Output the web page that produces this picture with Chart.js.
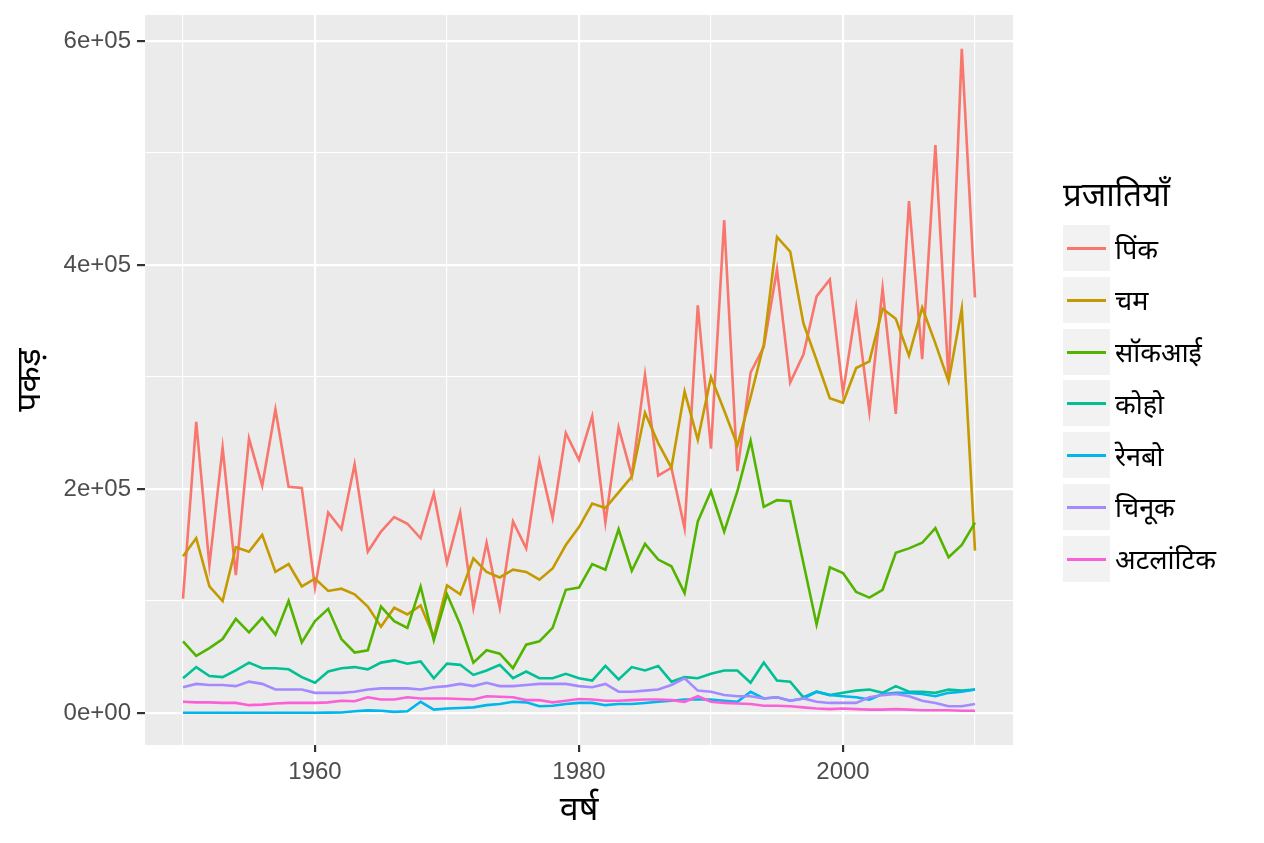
<!DOCTYPE html>
<html lang="hi">
<head>
<meta charset="utf-8">
<title>पकड़ - प्रजातियाँ</title>
<script src="https://cdn.jsdelivr.net/npm/chart.js@4.4.1/dist/chart.umd.min.js"></script>
<style>
  html, body { margin: 0; padding: 0; background: #fff; }
  #wrap { position: relative; width: 1264px; height: 843px; }
  #legend { position: absolute; left: 1063px; top: 172px; font-family: "Noto Sans", "Liberation Sans", sans-serif; color: #000; }
  #legend .title { font-size: 33px; line-height: 44px; height: 44px; margin-bottom: 9px; }
  #legend .row { display: flex; align-items: center; height: 46px; margin-bottom: 5.8px; }
  #legend .key { width: 47px; height: 46px; background: #F2F2F2; position: relative; }
  #legend .key span { position: absolute; left: 4px; right: 4px; top: 22px; height: 3px; }
  #legend .lab { margin-left: 5px; font-size: 27px; }
</style>
</head>
<body>
<div id="wrap">
  <canvas id="chart" width="1264" height="843"></canvas>
  <div id="legend"></div>
</div>
<script>
// 年份 (x 軸類別)
const years = [
  1950, 1951, 1952, 1953, 1954, 1955, 1956, 1957, 1958, 1959,
  1960, 1961, 1962, 1963, 1964, 1965, 1966, 1967, 1968, 1969,
  1970, 1971, 1972, 1973, 1974, 1975, 1976, 1977, 1978, 1979,
  1980, 1981, 1982, 1983, 1984, 1985, 1986, 1987, 1988, 1989,
  1990, 1991, 1992, 1993, 1994, 1995, 1996, 1997, 1998, 1999,
  2000, 2001, 2002, 2003, 2004, 2005, 2006, 2007, 2008, 2009, 2010
];

// 各物種捕獲量
const pink = [
  102000, 260000, 132000, 237000, 123000, 245000, 203000, 271000, 202000, 201000,
  112000, 179000, 164000, 222000, 144000, 162000, 175000, 169000, 156000, 196000,
  134000, 179000, 94000, 152000, 94000, 171000, 147000, 225000, 174000, 250000,
  226000, 265000, 170000, 255000, 212000, 302000, 212000, 219000, 165000, 364000,
  236000, 440000, 216000, 304000, 327000, 396000, 295000, 320000, 372000, 387000,
  286000, 362000, 269000, 379000, 267000, 457000, 316000, 507000, 297000, 593000, 371000
];
const chum = [
  140000, 156000, 113000, 100000, 148000, 144000, 159000, 126000, 133000, 113000,
  120000, 109000, 111000, 106000, 95000, 77000, 94000, 88000, 96000, 68000,
  114000, 106000, 138000, 126000, 121000, 128000, 126000, 119000, 129000, 150000,
  166000, 187000, 183000, 197000, 211000, 268000, 241000, 219000, 287000, 244000,
  300000, 270000, 239000, 282000, 329000, 425000, 412000, 348000, 315000, 281000,
  277000, 308000, 314000, 361000, 352000, 319000, 362000, 330000, 296000, 361000, 145000
];
const sockeye = [
  64000, 51000, 58000, 66000, 84000, 72000, 85000, 70000, 100000, 63000,
  82000, 93000, 66000, 54000, 56000, 95000, 82000, 76000, 113000, 65000,
  106000, 79000, 45000, 56000, 53000, 40000, 61000, 64000, 76000, 110000,
  112000, 133000, 128000, 164000, 127000, 151000, 137000, 131000, 107000, 171000,
  198000, 162000, 198000, 243000, 184000, 190000, 189000, 134000, 79000, 130000,
  125000, 108000, 103000, 110000, 143000, 147000, 152000, 165000, 139000, 150000, 170000
];
const coho = [
  31000, 41000, 33000, 32000, 38000, 45000, 40000, 40000, 39000, 32000,
  27000, 37000, 40000, 41000, 39000, 45000, 47000, 44000, 46000, 31000,
  44000, 43000, 34000, 38000, 43000, 31000, 37000, 31000, 31000, 35000,
  31000, 29000, 42000, 30000, 41000, 38000, 42000, 28000, 32000, 31000,
  35000, 38000, 38000, 27000, 45000, 29000, 28000, 14000, 19000, 16000,
  18000, 20000, 21000, 18000, 24000, 19000, 19000, 18000, 21000, 20000, 21000
];
const rainbow = [
  200, 200, 200, 200, 200, 200, 200, 200, 200, 200,
  200, 300, 500, 1500, 2300, 2000, 1000, 1500, 10000, 3000,
  4000, 4500, 5000, 7000, 8000, 10000, 9500, 6000, 6500, 8000,
  9000, 9000, 7000, 8000, 8000, 9000, 10000, 11000, 12000, 12000,
  12000, 11000, 10000, 19000, 13000, 14000, 11000, 13000, 19000, 16000,
  15000, 14000, 12000, 17000, 18000, 18000, 17000, 15000, 18000, 19000, 21000
];
const chinook = [
  23000, 26000, 25000, 25000, 24000, 28000, 26000, 21000, 21000, 21000,
  18000, 18000, 18000, 19000, 21000, 22000, 22000, 22000, 21000, 23000,
  24000, 26000, 24000, 27000, 24000, 24000, 25000, 26000, 26000, 26000,
  24000, 23000, 26000, 19000, 19000, 20000, 21000, 25000, 31000, 20000,
  19000, 16000, 15000, 15000, 13000, 14000, 11000, 13000, 10000, 9000,
  9000, 9000, 14000, 16000, 17000, 15000, 11000, 9000, 6000, 6000, 8000
];
const atlantic = [
  10000, 9500, 9500, 9000, 9000, 7000, 7500, 8500, 9000, 9000,
  9000, 9500, 11000, 10500, 14000, 12000, 12000, 14000, 13000, 13000,
  13000, 12500, 12000, 15000, 14500, 14000, 11500, 11500, 9500, 11000,
  12500, 12000, 11000, 11000, 11500, 12000, 12000, 11500, 10000, 15000,
  10000, 9000, 8500, 8000, 6500, 6500, 6000, 5000, 4000, 3500,
  4000, 3500, 3000, 3000, 3500, 3000, 2500, 2500, 2500, 2000, 2000
];

// 刻度
const xMajorTicks = [1960, 1980, 2000];
const xMinorTicks = [1950, 1970, 1990, 2010];
const yMajorTicks = [0, 200000, 400000, 600000];
const yMinorTicks = [100000, 300000, 500000];
const yTickLabels = ['0e+00', '2e+05', '4e+05', '6e+05'];

const speciesNames = ['पिंक', 'चम', 'सॉकआई', 'कोहो', 'रेनबो', 'चिनूक', 'अटलांटिक'];
const speciesData = [pink, chum, sockeye, coho, rainbow, chinook, atlantic];
const colors = ['#F8766D', '#C49A00', '#53B400', '#00C094', '#00B6EB', '#A58AFF', '#FB61D7'];

const FONT = '"Liberation Sans", "Noto Sans", sans-serif';
const HI_FONT = '"Noto Sans", "Liberation Sans", sans-serif';

// ggplot 灰色面板背景
const panelBg = {
  id: 'panelBg',
  beforeDraw(chart) {
    const {ctx, chartArea: a} = chart;
    ctx.save();
    ctx.fillStyle = '#EBEBEB';
    ctx.fillRect(a.left, a.top, a.right - a.left, a.bottom - a.top);
    ctx.restore();
  }
};

const datasets = speciesNames.map((name, idx) => ({
  label: name,
  data: years.map((y, i) => ({x: y, y: speciesData[idx][i]})),
  borderColor: colors[idx],
  backgroundColor: colors[idx],
  borderWidth: 2.6,
  pointRadius: 0,
  fill: false,
  tension: 0,
  order: speciesNames.length - idx // 後面的物種畫在上層
}));

const isMajor = (list, v) => list.includes(v);

new Chart(document.getElementById('chart').getContext('2d'), {
  type: 'line',
  data: { datasets: datasets },
  plugins: [panelBg],
  options: {
    responsive: false,
    animation: false,
    layout: { padding: { top: 15, right: 251, left: 0, bottom: 0 } },
    plugins: { legend: { display: false }, tooltip: { enabled: false } },
    scales: {
      x: {
        type: 'linear',
        min: 1947.12,
        max: 2012.88,
        afterFit: (s) => { s.height = 98; s.paddingLeft = 0; s.paddingRight = 0; },
        afterBuildTicks: (s) => {
          s.ticks = xMinorTicks.concat(xMajorTicks).sort((a, b) => a - b).map(v => ({value: v}));
        },
        border: { display: false },
        grid: {
          color: '#FFFFFF',
          lineWidth: (c) => isMajor(xMajorTicks, c.tick.value) ? 2.2 : 1.1,
          drawTicks: true,
          tickLength: 7,
          tickWidth: 2.2,
          tickColor: (c) => isMajor(xMajorTicks, c.tick.value) ? '#333333' : 'rgba(0,0,0,0)'
        },
        ticks: {
          autoSkip: false,
          maxRotation: 0,
          padding: 6,
          color: '#4D4D4D',
          font: { family: FONT, size: 24 },
          callback: (v) => isMajor(xMajorTicks, v) ? String(v) : ''
        },
        title: {
          display: true,
          text: 'वर्ष',
          color: '#000',
          font: { family: HI_FONT, size: 34 },
          padding: { top: 0, bottom: 12 }
        }
      },
      y: {
        type: 'linear',
        min: -28571,
        max: 623214,
        afterFit: (s) => { s.width = 145; s.paddingTop = 0; s.paddingBottom = 0; },
        afterBuildTicks: (s) => {
          s.ticks = yMajorTicks.concat(yMinorTicks).sort((a, b) => a - b).map(v => ({value: v}));
        },
        border: { display: false },
        grid: {
          color: '#FFFFFF',
          lineWidth: (c) => isMajor(yMajorTicks, c.tick.value) ? 2.2 : 1.1,
          drawTicks: true,
          tickLength: 8,
          tickWidth: 2.2,
          tickColor: (c) => isMajor(yMajorTicks, c.tick.value) ? '#333333' : 'rgba(0,0,0,0)'
        },
        ticks: {
          autoSkip: false,
          padding: 6,
          color: '#4D4D4D',
          font: { family: FONT, size: 24 },
          callback: (v) => {
            const i = yMajorTicks.indexOf(v);
            return i >= 0 ? yTickLabels[i] : '';
          }
        },
        title: {
          display: true,
          text: 'पकड़',
          color: '#000',
          font: { family: HI_FONT, size: 34 },
          padding: { top: 10, bottom: 0 }
        }
      }
    }
  }
});

// 圖例 (HTML)
let html = '<div class="title">प्रजातियाँ</div>';
speciesNames.forEach((name, idx) => {
  html += `<div class="row"><div class="key"><span style="background:${colors[idx]}"></span></div>` +
    `<div class="lab">${name}</div></div>`;
});
document.getElementById('legend').innerHTML = html;
</script>
</body>
</html>
